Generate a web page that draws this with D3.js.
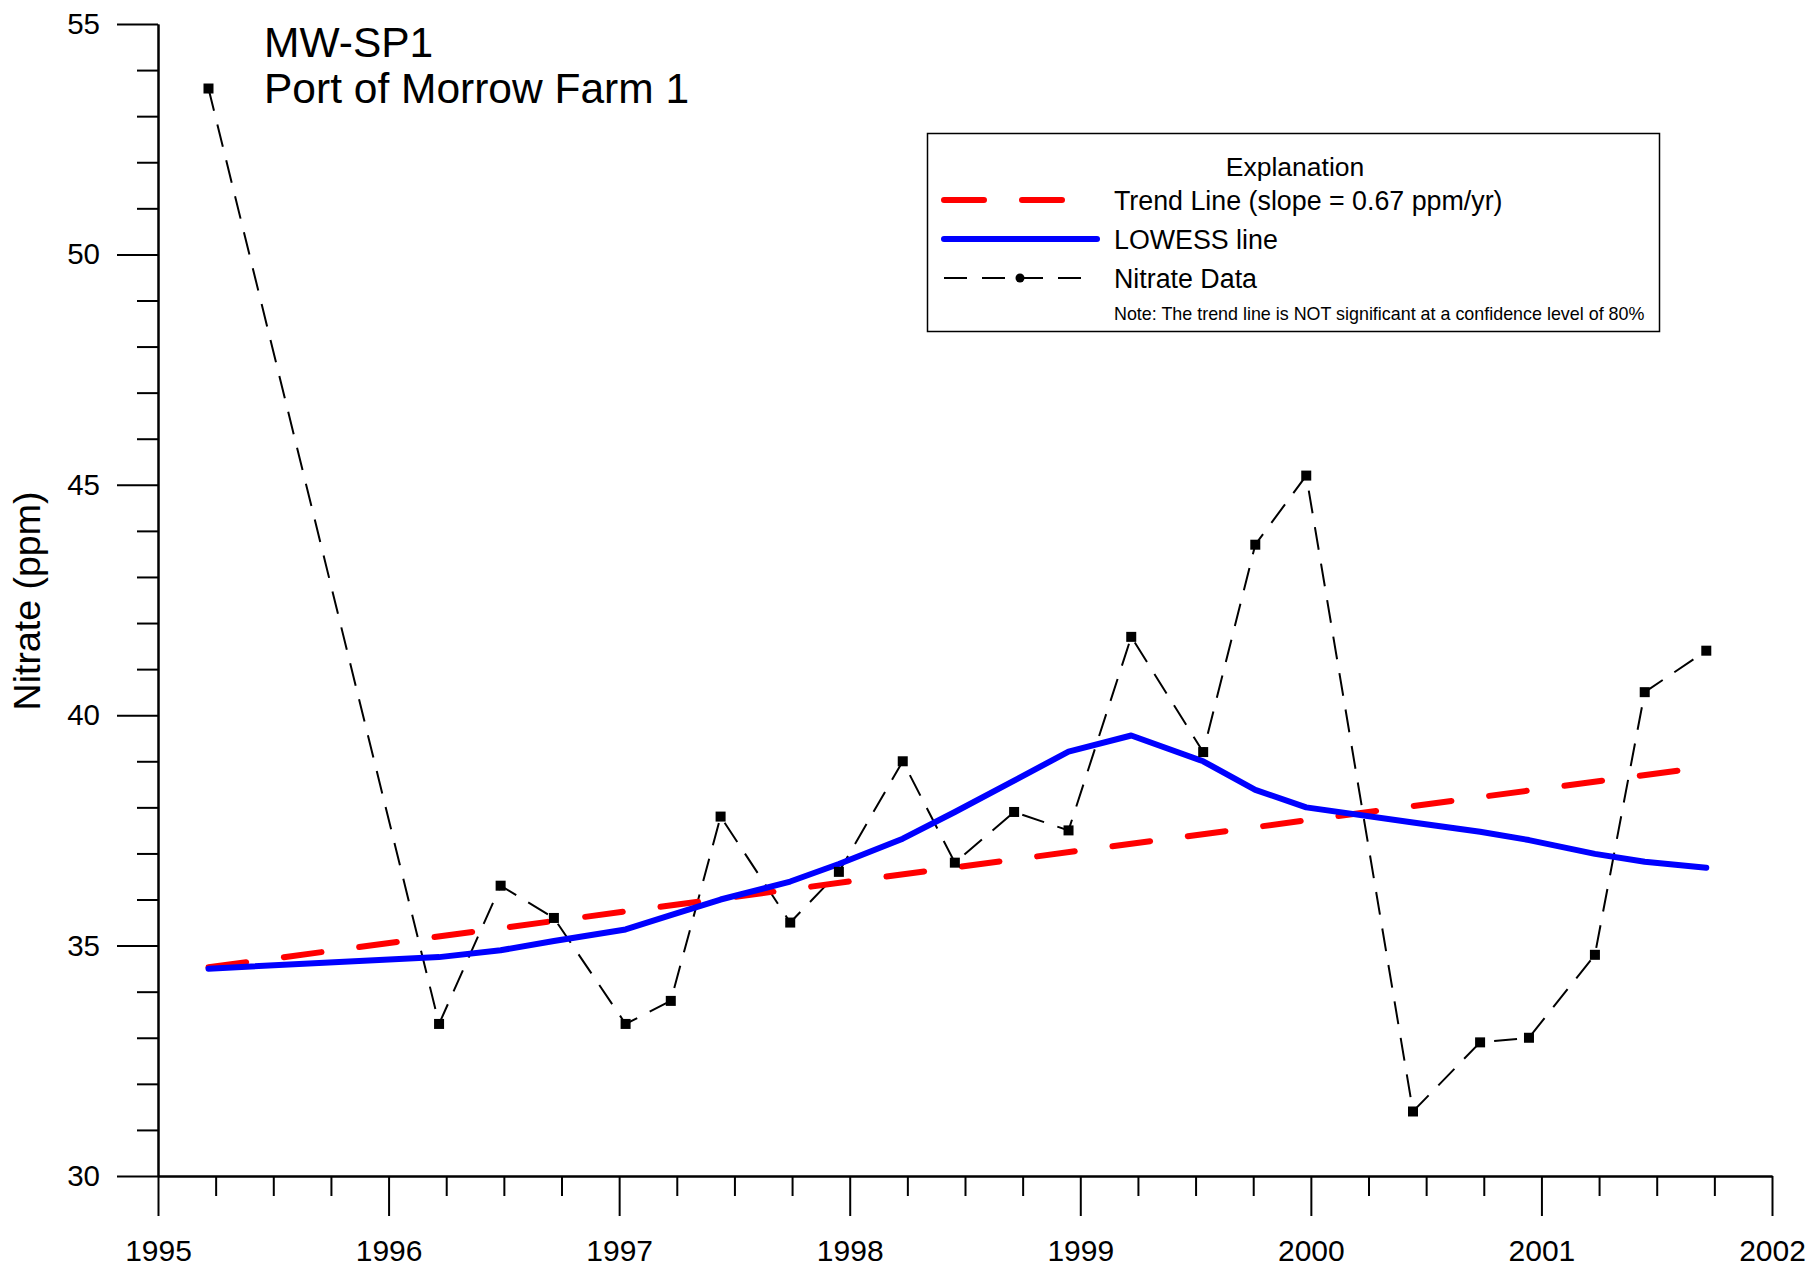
<!DOCTYPE html>
<html>
<head>
<meta charset="utf-8">
<script src="https://cdn.jsdelivr.net/npm/d3@7/dist/d3.min.js"></script>
<style>
  html, body { margin: 0; padding: 0; background: #fff; }
  svg { display: block; font-family: "Liberation Sans", Arial, sans-serif; }
</style>
</head>
<body>
<svg id="chart" width="1818" height="1273"></svg>
<script>
// ---- data ----
const sampleDates = [1995.219, 1996.219, 1996.486, 1996.717, 1997.028, 1997.224, 1997.440, 1997.742,
  1997.953, 1998.230, 1998.456, 1998.713, 1998.949, 1999.221, 1999.533, 1999.759, 1999.980,
  2000.443, 2000.734, 2000.946, 2001.232, 2001.448, 2001.715];
const nitrate = [53.6, 33.3, 36.3, 35.6, 33.3, 33.8, 37.8, 35.5, 36.6, 39.0, 36.8, 37.9, 37.5,
  41.7, 39.2, 43.7, 45.2, 31.4, 32.9, 33.0, 34.8, 40.5, 41.4];
const lowess = [34.5, 34.75, 34.9, 35.1, 35.35, 35.66, 36.0, 36.39, 36.77, 37.32, 37.9, 38.58, 39.21,
  39.56, 39.0, 38.38, 38.0, 37.67, 37.47, 37.29, 36.99, 36.82, 36.69];
const trendDates = [1995.219, 2001.715];
const trendValues = [34.53, 38.88];
const xTickYears = [1995, 1996, 1997, 1998, 1999, 2000, 2001, 2002];
const yTickValues = [30, 35, 40, 45, 50, 55];
const titleLines = ["MW-SP1", "Port of Morrow Farm 1"];
const yLabel = "Nitrate (ppm)";
const legendTitle = "Explanation";
const legendLabels = ["Trend Line (slope = 0.67 ppm/yr)", "LOWESS line", "Nitrate Data"];
const legendNote = "Note: The trend line is NOT significant at a confidence level of 80%";

// ---- layout ----
const svg = d3.select("#chart");
const x = d3.scaleLinear().domain([1995, 2002]).range([158, 1772]);
const y = d3.scaleLinear().domain([30, 55]).range([1176, 24]);

// minor ticks
const xMinor = d3.range(1995, 2002.001, 0.25).filter(v => Math.abs(v - Math.round(v)) > 1e-6);
const yMinor = d3.range(30, 55.001, 1).filter(v => v % 5 !== 0);

const axisStyle = g => {
  g.selectAll("path, line").attr("stroke", "#000").attr("stroke-width", 2);
  g.selectAll("text").attr("fill", "#000");
};

// x axis
svg.append("g").attr("transform", `translate(0,${y(30)})`)
  .call(d3.axisBottom(x).tickValues(xMinor).tickSize(20).tickSizeOuter(0).tickFormat(""))
  .call(axisStyle);
svg.append("g").attr("transform", `translate(0,${y(30)})`)
  .call(d3.axisBottom(x).tickValues(xTickYears).tickSize(40).tickSizeOuter(0).tickPadding(24).tickFormat(d3.format("d")))
  .call(axisStyle)
  .call(g => g.selectAll("text").attr("font-size", 30));

// y axis
svg.append("g").attr("transform", `translate(${x(1995)},0)`)
  .call(d3.axisLeft(y).tickValues(yMinor).tickSize(21).tickSizeOuter(0).tickFormat(""))
  .call(axisStyle);
svg.append("g").attr("transform", `translate(${x(1995)},0)`)
  .call(d3.axisLeft(y).tickValues(yTickValues).tickSize(41).tickSizeOuter(0).tickPadding(17).tickFormat(d3.format("d")))
  .call(axisStyle)
  .call(g => g.selectAll("text").attr("font-size", 29.5));

// y label
svg.append("text")
  .attr("transform", `translate(40,601) rotate(-90)`)
  .attr("text-anchor", "middle")
  .attr("font-size", 37.5)
  .attr("fill", "#000")
  .text(yLabel);

// title
svg.append("g").selectAll("text").data(titleLines).join("text")
  .attr("x", 264)
  .attr("y", (d, i) => 57 + i * 46)
  .attr("font-size", 42.5)
  .attr("fill", "#000")
  .text(d => d);

// data line
const pts = sampleDates.map((d, i) => [d, nitrate[i]]);
const line = d3.line().x(d => x(d[0])).y(d => y(d[1]));
svg.append("path").datum(pts)
  .attr("d", line)
  .attr("fill", "none").attr("stroke", "#000").attr("stroke-width", 2)
  .attr("stroke-dasharray", "23,14");

// trend line
const trendPts = trendDates.map((d, i) => [d, trendValues[i]]);
svg.append("path").datum(trendPts)
  .attr("d", line)
  .attr("fill", "none").attr("stroke", "#ff0000").attr("stroke-width", 6)
  .attr("stroke-linecap", "round")
  .attr("stroke-dasharray", "38,38");

// lowess
const lowPts = sampleDates.map((d, i) => [d, lowess[i]]);
svg.append("path").datum(lowPts)
  .attr("d", line)
  .attr("fill", "none").attr("stroke", "#0000ff").attr("stroke-width", 6)
  .attr("stroke-linejoin", "round").attr("stroke-linecap", "round");

// markers
svg.append("g").selectAll("rect").data(pts).join("rect")
  .attr("x", d => x(d[0]) - 5)
  .attr("y", d => y(d[1]) - 5)
  .attr("width", 10).attr("height", 10)
  .attr("fill", "#000");

// legend
const lg = svg.append("g");
lg.append("rect").attr("x", 927.5).attr("y", 133.5).attr("width", 732).attr("height", 198)
  .attr("fill", "#fff").attr("stroke", "#000").attr("stroke-width", 1.5);
lg.append("text").attr("x", 1295).attr("y", 176).attr("text-anchor", "middle")
  .attr("font-size", 26.5).attr("fill", "#000").text(legendTitle);
const rowY = [200, 239, 278];
lg.append("line").attr("x1", 944).attr("x2", 1066).attr("y1", rowY[0]).attr("y2", rowY[0])
  .attr("stroke", "#ff0000").attr("stroke-width", 6).attr("stroke-linecap", "round")
  .attr("stroke-dasharray", "40,38");
lg.append("line").attr("x1", 944).attr("x2", 1097).attr("y1", rowY[1]).attr("y2", rowY[1])
  .attr("stroke", "#0000ff").attr("stroke-width", 6).attr("stroke-linecap", "round");
lg.append("line").attr("x1", 944).attr("x2", 1082).attr("y1", rowY[2]).attr("y2", rowY[2])
  .attr("stroke", "#000").attr("stroke-width", 2).attr("stroke-dasharray", "23,15");
lg.append("circle").attr("cx", 1020).attr("cy", rowY[2]).attr("r", 4.5).attr("fill", "#000");
lg.selectAll("text.lab").data(legendLabels).join("text").attr("class", "lab")
  .attr("x", 1114).attr("y", (d, i) => rowY[i] + 10)
  .attr("font-size", 26.8).attr("fill", "#000").text(d => d);
lg.append("text").attr("x", 1114).attr("y", 320)
  .attr("font-size", 17.9).attr("fill", "#000").text(legendNote);
</script>
</body>
</html>
